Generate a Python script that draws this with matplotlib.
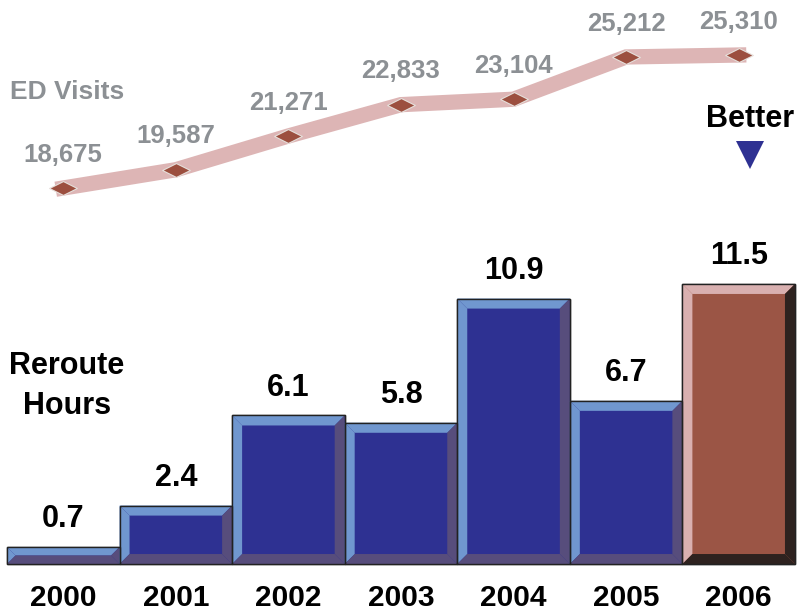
import matplotlib
matplotlib.use("Agg")
import matplotlib.pyplot as plt
from matplotlib.patches import Polygon
import numpy as np

plt.rcParams['font.family'] = ['Liberation Sans', 'DejaVu Sans']

# reroute hours per year (bars) and ED visits (line on top)
years = ['2000', '2001', '2002', '2003', '2004', '2005', '2006']
reroute_hours = [0.7, 2.4, 6.1, 5.8, 10.9, 6.7, 11.5]
ed_visits = [18675, 19587, 21271, 22833, 23104, 25212, 25310]

blue_face, blue_light, blue_dark = '#2e3192', '#7097cf', '#574d7c'
red_face, red_light, red_dark = '#9b5545', '#d9b0b0', '#2e221f'
gray = '#8c9094'

fig = plt.figure(figsize=(7.98, 6.12), dpi=100)
ax = fig.add_axes([0, 0, 1, 1])
ax.set_xlim(-0.562, 6.527)
ax.set_ylim(-1.97, 23.16)
ax.axis('off')

x = np.arange(len(years))
bars = ax.bar(x, reroute_hours, width=1.0, color=blue_face,
              edgecolor='#222222', linewidth=1.0, zorder=2)

# pixel -> data conversions for the bevel width
px_x = 1 / 112.57
px_y = 1 / 24.35

for i, (rect, v) in enumerate(zip(bars, reroute_hours)):
    last = i == len(years) - 1
    face = red_face if last else blue_face
    light = red_light if last else blue_light
    dark = red_dark if last else blue_dark
    rect.set_facecolor(face)
    x0, x1 = rect.get_x(), rect.get_x() + rect.get_width()
    y0, y1 = 0, v
    bpx = min(10, v / px_y / 2)
    bx, by = bpx * px_x, bpx * px_y
    top = [(x0, y1), (x1, y1), (x1 - bx, y1 - by), (x0 + bx, y1 - by)]
    left = [(x0, y0), (x0, y1), (x0 + bx, y1 - by), (x0 + bx, y0 + by)]
    right = [(x1, y1), (x1, y0), (x1 - bx, y0 + by), (x1 - bx, y1 - by)]
    bottom = [(x0, y0), (x1, y0), (x1 - bx, y0 + by), (x0 + bx, y0 + by)]
    for pts, c in [(top, light), (left, light), (right, dark), (bottom, dark)]:
        ax.add_patch(Polygon(pts, closed=True, facecolor=c, edgecolor='none', zorder=3))
    ax.add_patch(Polygon([(x0, y0), (x1, y0), (x1, y1), (x0, y1)], closed=True,
                         facecolor='none', edgecolor='#222222', linewidth=1.0, zorder=4))
    ax.annotate(f'{v}', (x[i], v), xytext=(0, 20), textcoords='offset points',
                ha='center', va='center', fontsize=22, fontweight='bold', color='black')

for i, yr in enumerate(years):
    ax.text(x[i], -1.41, yr, ha='center', va='center', fontsize=21.5, fontweight='bold')

ax.text(0.033, 7.31, 'Reroute\nHours', ha='center', va='center', fontsize=22,
        fontweight='bold', linespacing=1.4)

# ED visits line
ax2 = ax.twinx()
ax2.set_ylim(-2477, 28054)
ax2.axis('off')
diamond = [(-1, 0), (0, 0.5), (1, 0), (0, -0.5), (-1, 0)]
ax2.plot(x, ed_visits, color='#ddb5b5', linewidth=11, solid_joinstyle='miter', zorder=1)
ax2.plot(x, ed_visits, linestyle='none', marker=diamond, markersize=20,
         markerfacecolor='#9c4f3f', markeredgecolor='#e6e0dc', markeredgewidth=0.8, zorder=2)
for i, v in enumerate(ed_visits):
    ax2.annotate(f'{v:,}', (x[i], v), xytext=(0, 24), textcoords='offset points',
                 ha='center', va='center', fontsize=18.5, fontweight='bold', color=gray)

fig.text(10 / 798, 1 - 92 / 612, 'ED Visits', ha='left', va='center', fontsize=19,
         fontweight='bold', color=gray)
fig.text(750 / 798, 1 - 119 / 612, 'Better', ha='center', va='center', fontsize=22,
         fontweight='bold', color='black')
fig.patches.append(Polygon([(736 / 798, 1 - 141 / 612), (764 / 798, 1 - 141 / 612),
                            (750 / 798, 1 - 169 / 612)], closed=True,
                           transform=fig.transFigure, facecolor=blue_face, edgecolor='none'))

fig.savefig('out.png', dpi=100)
